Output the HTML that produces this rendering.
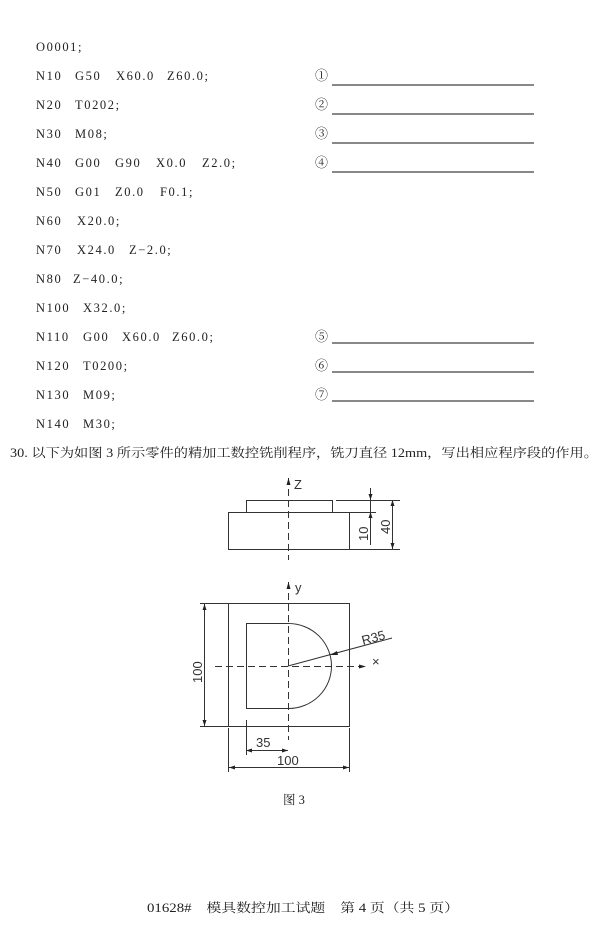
<!DOCTYPE html>
<html><head><meta charset="utf-8"><style>
html,body{margin:0;padding:0;background:#fff}
svg{display:block}
.t{font-family:"Liberation Serif","Noto Serif CJK SC",serif;font-size:12.5px;fill:#222}
.code text{letter-spacing:1.6px}
.c{font-family:"Liberation Serif","Noto Serif CJK SC",serif;font-size:13px;fill:#222}
.d{font-family:"Liberation Sans",sans-serif;font-size:13px;fill:#333}
</style></head><body>
<svg width="610" height="929" viewBox="0 0 610 929" xmlns="http://www.w3.org/2000/svg">
<g class="t code">
<text x="36" y="51">O0001;</text>
<text x="36" y="80">N10</text><text x="75" y="80">G50</text><text x="116" y="80">X60.0</text><text x="167" y="80">Z60.0;</text>
<text x="36" y="109">N20</text><text x="75" y="109">T0202;</text>
<text x="36" y="138">N30</text><text x="75" y="138">M08;</text>
<text x="36" y="167">N40</text><text x="75" y="167">G00</text><text x="115" y="167">G90</text><text x="156" y="167">X0.0</text><text x="202" y="167">Z2.0;</text>
<text x="36" y="196">N50</text><text x="75" y="196">G01</text><text x="115" y="196">Z0.0</text><text x="160" y="196">F0.1;</text>
<text x="36" y="225">N60</text><text x="77" y="225">X20.0;</text>
<text x="36" y="254">N70</text><text x="77" y="254">X24.0</text><text x="129" y="254">Z−2.0;</text>
<text x="36" y="283">N80</text><text x="73" y="283">Z−40.0;</text>
<text x="36" y="312">N100</text><text x="83" y="312">X32.0;</text>
<text x="36" y="341">N110</text><text x="83" y="341">G00</text><text x="122" y="341">X60.0</text><text x="172" y="341">Z60.0;</text>
<text x="36" y="370">N120</text><text x="83" y="370">T0200;</text>
<text x="36" y="399">N130</text><text x="83" y="399">M09;</text>
<text x="36" y="428">N140</text><text x="83" y="428">M30;</text>
</g>
<g class="c">
<text x="315" y="80">①</text><text x="315" y="109">②</text><text x="315" y="138">③</text><text x="315" y="167">④</text>
<text x="315" y="341">⑤</text><text x="315" y="370">⑥</text><text x="315" y="399">⑦</text>
</g>
<g stroke="#111" stroke-width="1">
<line x1="332" y1="85" x2="534" y2="85"/><line x1="332" y1="114" x2="534" y2="114"/>
<line x1="332" y1="143" x2="534" y2="143"/><line x1="332" y1="172" x2="534" y2="172"/>
<line x1="332" y1="343" x2="534" y2="343"/><line x1="332" y1="372" x2="534" y2="372"/>
<line x1="332" y1="401" x2="534" y2="401"/>
</g>
<text class="t" x="10" y="457" textLength="588" lengthAdjust="spacingAndGlyphs">30. 以下为如图 3 所示零件的精加工数控铣削程序，铣刀直径 12mm，写出相应程序段的作用。</text>

<g stroke="#333" stroke-width="1" fill="none">
<rect x="228.5" y="512.5" width="121" height="37"/>
<rect x="246.5" y="500.5" width="86" height="12"/>
<line x1="288.5" y1="478" x2="288.5" y2="560" stroke-dasharray="7,4"/>
<line x1="336" y1="500.5" x2="400" y2="500.5"/>
<line x1="350" y1="512.5" x2="376" y2="512.5"/>
<line x1="350" y1="549.5" x2="400" y2="549.5"/>
<line x1="370.5" y1="488" x2="370.5" y2="545"/>
<line x1="392.5" y1="500" x2="392.5" y2="549"/>
<rect x="228.5" y="603.5" width="121" height="123"/>
<path d="M288.5 623.5 H246.5 V708.5 H288.5 A43 42.5 0 0 0 288.5 623.5"/>
<line x1="288.5" y1="582" x2="288.5" y2="740" stroke-dasharray="7,4"/>
<line x1="215" y1="666.5" x2="360" y2="666.5" stroke-dasharray="7,4"/>
<line x1="288" y1="666" x2="392" y2="638"/>
<line x1="204.5" y1="604" x2="204.5" y2="727"/>
<line x1="200" y1="603.5" x2="228" y2="603.5"/>
<line x1="200" y1="726.5" x2="228" y2="726.5"/>
<line x1="246.5" y1="720" x2="246.5" y2="755"/>
<line x1="246" y1="750.5" x2="288" y2="750.5"/>
<line x1="228.5" y1="728" x2="228.5" y2="772"/>
<line x1="349.5" y1="728" x2="349.5" y2="772"/>
<line x1="229" y1="767.5" x2="349" y2="767.5"/>
</g>
<g fill="#222">
<path d="M288.5 478 l-2 7 h4z"/>
<path d="M288.5 582 l-2 7 h4z"/>
<path d="M366 666.5 l-7 -2 v4z"/>
<path d="M370.5 500 l-2 -6 h4z"/><path d="M370.5 512 l-2 6 h4z"/>
<path d="M392.5 500 l-2 6 h4z"/><path d="M392.5 549 l-2 -6 h4z"/>
<path d="M204.5 604 l-2 6 h4z"/><path d="M204.5 726 l-2 -6 h4z"/>
<path d="M246 750.5 l6 -2 v4z"/><path d="M288 750.5 l-6 -2 v4z"/>
<path d="M229 767.5 l6 -2 v4z"/><path d="M349 767.5 l-6 -2 v4z"/>
<path d="M330 655 l7 -4 l1 4z"/>
</g>
<g class="d">
<text x="294" y="489">Z</text>
<text x="295" y="592">y</text>
<text x="372" y="666">×</text>
<text x="363" y="645" transform="rotate(-15 363 645)">R35</text>
<text transform="translate(368 541) rotate(-90)">10</text>
<text transform="translate(390 534) rotate(-90)">40</text>
<text transform="translate(202 683) rotate(-90)">100</text>
<text x="256" y="747">35</text>
<text x="277" y="765">100</text>
</g>
<text class="t" x="283" y="804">图 3</text>
<text class="t" x="147" y="912" textLength="312" lengthAdjust="spacingAndGlyphs">01628#　模具数控加工试题　第 4 页（共 5 页）</text>
</svg>
</body></html>
